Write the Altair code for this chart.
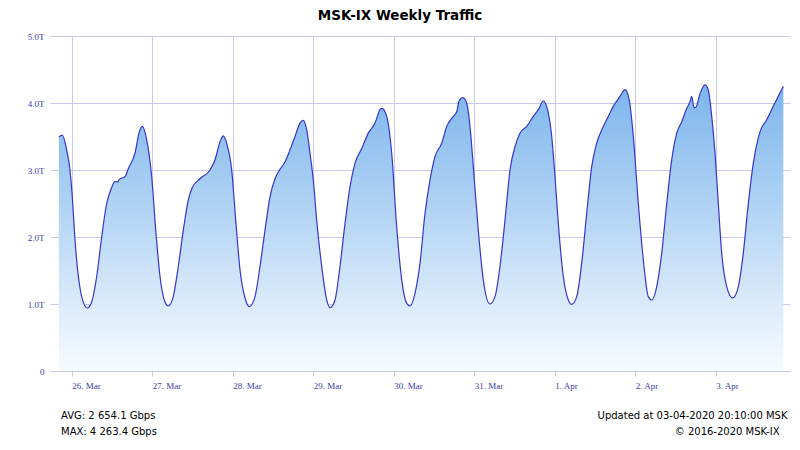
import altair as alt
import pandas as pd

# hours since 2020-03-26 00:00 (local) and traffic in Tbps
hours = [-3.83, -2.80, -1.49, -0.51, 0.18, 0.98, 1.67, 2.98, 4.65, 5.96, 7.45, 8.94, 10.43, 11.93,
         12.91, 13.60, 14.19, 15.89, 16.87, 18.87, 20.06, 21.05, 22.36, 23.85, 25.13, 26.33, 27.82,
         28.80, 30.29, 31.78, 33.27, 34.76, 35.96, 38.25, 41.23, 42.72, 44.21, 45.20, 46.21, 47.70,
         48.98, 50.18, 51.67, 52.95, 54.65, 56.14, 57.63, 59.12, 60.61, 62.10, 63.59, 65.08, 66.57,
         68.06, 69.05, 70.06, 71.05, 72.03, 73.04, 74.54, 76.03, 77.01, 78.50, 79.99, 81.48, 82.97,
         84.46, 86.46, 88.43, 90.42, 91.92, 92.51, 93.91, 95.40, 96.90, 98.39, 99.88, 100.86, 102.35,
         103.84, 105.33, 106.82, 108.31, 110.31, 111.80, 113.77, 114.78, 115.56, 116.57, 117.76,
         118.75, 119.73, 121.22, 122.71, 124.71, 126.20, 127.69, 129.18, 130.67, 132.16, 133.65,
         135.65, 137.62, 139.11, 140.60, 141.61, 143.11, 144.09, 145.08, 146.57, 148.06, 149.07,
         150.56, 152.05, 153.54, 155.03, 156.52, 158.49, 159.98, 161.47, 163.47, 164.96, 166.24,
         167.44, 168.93, 170.42, 171.91, 172.93, 174.42, 175.91, 177.40, 178.88, 180.38, 181.87,
         183.36, 184.35, 184.85, 185.54, 186.13, 187.33, 188.82, 189.80, 190.81, 191.80, 192.78,
         193.79, 195.28, 197.07, 198.74, 200.23, 201.72, 203.21, 205.20, 207.20, 209.17, 210.66,
         212.17]
traffic = [3.49, 3.52, 3.30, 3.00, 2.60, 1.96, 1.56, 1.11, 0.94, 1.03, 1.41, 2.00, 2.50, 2.74,
           2.83, 2.82, 2.86, 2.90, 3.02, 3.25, 3.55, 3.65, 3.45, 2.90, 2.06, 1.41, 1.03,
           0.97, 1.11, 1.56, 2.10, 2.55, 2.74, 2.87, 3.00, 3.15, 3.42, 3.51, 3.40, 3.00,
           2.20, 1.51, 1.09, 0.96, 1.11, 1.56, 2.10, 2.60, 2.87, 3.01, 3.12, 3.30, 3.50,
           3.70, 3.74, 3.60, 3.25, 2.85, 2.25, 1.56, 1.06, 0.945, 1.06, 1.56, 2.20, 2.75,
           3.10, 3.32, 3.55, 3.70, 3.90, 3.92, 3.80, 3.25, 2.15, 1.36, 1.01, 0.97, 1.16,
           1.61, 2.35, 2.85, 3.20, 3.40, 3.65, 3.80, 3.87, 4.04, 4.08, 4.00,
           3.65, 3.05, 2.10, 1.36, 1.00, 1.11, 1.56, 2.25, 3.00, 3.35, 3.55,
           3.65, 3.80, 3.90, 4.03, 3.95, 3.50, 2.90, 2.20, 1.41, 1.06, 0.995,
           1.11, 1.61, 2.35, 3.05, 3.40, 3.65, 3.80, 3.95, 4.10, 4.20, 4.04,
           3.50, 2.50, 1.66, 1.11, 1.06, 1.26, 1.76, 2.50, 3.15, 3.55, 3.72,
           3.92, 4.02, 4.10, 3.93, 3.94, 4.14, 4.27, 4.19, 3.80, 3.25, 2.50,
           1.76, 1.26, 1.09, 1.26, 1.76, 2.50, 3.10, 3.57, 3.75, 3.95, 4.10,
           4.25]

title_text = "MSK-IX Weekly Traffic"
avg_text = "AVG: 2 654.1 Gbps"
max_text = "MAX: 4 263.4 Gbps"
updated_text = "Updated at 03-04-2020 20:10:00 MSK"
copy_text = "© 2016-2020 MSK-IX"

base_time = pd.Timestamp("2020-03-26 00:00:00")
df = pd.DataFrame({
    "time": [(base_time + pd.to_timedelta(h, unit="h")).strftime("%Y-%m-%dT%H:%M:%S") for h in hours],
    "value": traffic,
})

GRID = "#c8c8ea"
LABEL = "#3c3ca8"
LINE = "#3535c8"

x_enc = alt.X(
    "time:T",
    scale=alt.Scale(domain=[
        alt.DateTime(year=2020, month=3, date=25, hours=17, minutes=32),
        alt.DateTime(year=2020, month=4, date=3, hours=22, minutes=9),
    ]),
    axis=alt.Axis(
        title=None, format="%-d. %b", tickCount=alt.TickCount(interval="day", step=1),
        labelAlign="left", labelFlush=False, labelOverlap=False,
        labelFont="Liberation Serif", labelFontSize=9, labelColor=LABEL,
        labelPadding=5, tickSize=5, tickColor=GRID, domainColor=GRID,
        gridColor=GRID, grid=True,
    ),
)
y_enc = alt.Y(
    "value:Q",
    scale=alt.Scale(domain=[0, 5], nice=False),
    axis=alt.Axis(
        title=None, values=[0, 1, 2, 3, 4, 5],
        labelExpr="datum.value == 0 ? '0' : format(datum.value, '.1f') + 'T'",
        labelFont="Liberation Serif", labelFontSize=9, labelColor=LABEL,
        labelPadding=6, ticks=False, domain=False, gridColor=GRID, grid=True,
    ),
)

area = alt.Chart(df).mark_area(
    interpolate="monotone",
    color=alt.Gradient(
        gradient="linear",
        stops=[alt.GradientStop(color="#7cb5ec", offset=0),
               alt.GradientStop(color="#f7fbff", offset=1)],
        x1=1, x2=1, y1=0, y2=1,
    ),
).encode(x=x_enc, y=y_enc)

line = alt.Chart(df).mark_line(interpolate="monotone", color=LINE, strokeWidth=1.2).encode(
    x="time:T", y="value:Q"
)

one = pd.DataFrame({"t": [title_text]})
title = alt.Chart(one).mark_text(
    font="DejaVu Sans", fontSize=13.5, fontWeight="bold", color="#000000",
    align="center", baseline="middle",
).encode(text="t:N", x=alt.value(350), y=alt.value(-20))

def note(txt, xpos, ypos, align):
    return alt.Chart(pd.DataFrame({"t": [txt]})).mark_text(
        font="DejaVu Sans", fontSize=10, color="#000000", align=align, baseline="middle",
    ).encode(text="t:N", x=alt.value(xpos), y=alt.value(ypos))

chart = alt.layer(
    area, line, title,
    note(avg_text, 11, 380, "left"),
    note(max_text, 11, 395.5, "left"),
    note(updated_text, 737.5, 380, "right"),
    note(copy_text, 729.5, 395.5, "right"),
).properties(
    width=740, height=335,
    autosize=alt.AutoSizeParams(type="none"),
    padding={"left": 42, "top": 28, "right": 2, "bottom": 76},
    background="#ffffff",
).configure_view(strokeWidth=0)

chart.save("out.html", embed_options={"renderer": "svg", "actions": False})
